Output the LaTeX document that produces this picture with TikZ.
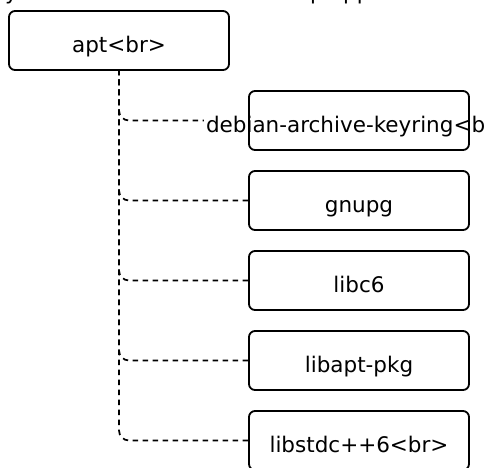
\documentclass[tikz,border=0pt]{standalone}
\usepackage{fontspec}
\setmainfont{DejaVu Sans}
\pgfdeclarelayer{bg}
\pgfdeclarelayer{mid}
\pgfsetlayers{bg,mid,main}
\begin{document}
\begin{tikzpicture}[x=1pt,y=-1pt,
  box/.style={draw, line width=1.8pt, rounded corners=6pt, minimum width=220pt, minimum height=59pt, inner sep=0pt},
  lbl/.style={anchor=base, fill=white, inner ysep=0pt, inner xsep=2pt, font=\fontsize{21.5}{25}\selectfont},
  frag/.style={anchor=base west, inner sep=0pt, font=\fontsize{21.5}{25}\selectfont},
  dep/.style={draw, line width=1.7pt, dash pattern=on 5.5pt off 4.5pt, rounded corners=10pt}]
\useasboundingbox (0,0) rectangle (487,467);
% boxes
\node[box] (apt) at (119,40.5) {};
\node[box] (deb) at (359,120.5) {};
\node[box] (gnupg) at (359,200.5) {};
\node[box] (libc) at (359,280.5) {};
\node[box] (libapt) at (359,360.5) {};
\node[box] (libstd) at (359,440.5) {};
% labels
\begin{pgfonlayer}{mid}
\clip (0,0) rectangle (484,467);
\node[frag] (f1) at (5,-1) {y};
\node[frag] (f2) at (310,-1) {p};
\node[frag] (f3) at (343,-1) {pp};
\node[lbl] (tapt) at ([yshift=-12pt]apt.center) {apt<br>};
\node[lbl] (tdeb) at ([yshift=-12pt]deb.center) {debian-archive-keyring<br>};
\node[lbl] (tgnupg) at ([yshift=-12pt]gnupg.center) {gnupg};
\node[lbl] (tlibc) at ([yshift=-12pt]libc.center) {libc6};
\node[lbl] (tlibapt) at ([yshift=-12pt]libapt.center) {libapt-pkg};
\node[lbl] (tlibstd) at ([yshift=-12pt]libstd.center) {libstdc++6<br>};
\end{pgfonlayer}
% connectors
\begin{pgfonlayer}{bg}
\foreach \n in {deb,gnupg,libc,libapt,libstd}
  \draw[dep] (\n.west) -| (apt.south);
\end{pgfonlayer}
\end{tikzpicture}
\end{document}
